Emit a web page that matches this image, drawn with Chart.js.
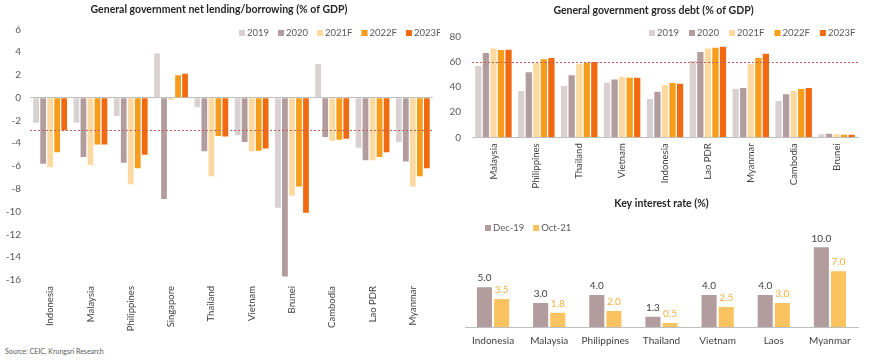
<!DOCTYPE html>
<html>
<head>
<meta charset="utf-8">
<script src="https://cdn.jsdelivr.net/npm/chart.js@4.4.0/dist/chart.umd.min.js"></script>
<style>
body { margin: 0; background: #fff; width: 870px; height: 362px; overflow: hidden; position: relative; font-family: Lato, sans-serif; }
.box { position: absolute; }
canvas { display: block; }
#source { position: absolute; left: 5px; top: 347px; font-size: 7px; color: #595959; }
</style>
</head>
<body>
<div class="box" style="left:0;top:0;"><canvas id="netChart" width="440" height="345"></canvas></div>
<div class="box" style="left:440px;top:0;"><canvas id="debtChart" width="430" height="195"></canvas></div>
<div class="box" style="left:440px;top:195px;"><canvas id="rateChart" width="430" height="167"></canvas></div>
<div id="source">Source: CEIC, Krungsri Research</div>
<script>
// net lending/borrowing (% of GDP)
var netCountries = ['Indonesia', 'Malaysia', 'Philippines', 'Singapore', 'Thailand', 'Vietnam', 'Brunei', 'Cambodia', 'Lao PDR', 'Myanmar'];
var net2019 = [-2.2, -2.2, -1.6, 3.9, -0.85, -3.3, -9.65, 2.95, -4.4, -3.9];
var net2020 = [-5.8, -5.2, -5.7, -8.9, -4.7, -3.9, -15.7, -3.45, -5.5, -5.6];
var net2021F = [-6.1, -5.9, -7.6, -0.2, -6.9, -4.7, -8.6, -3.77, -5.5, -7.8];
var net2022F = [-4.8, -4.1, -6.2, 1.96, -3.36, -4.65, -7.8, -3.7, -5.2, -6.9];
var net2023F = [-2.85, -4.1, -5.0, 2.1, -3.4, -4.45, -10.1, -3.6, -4.8, -6.2];
var netRef = -2.85;

// gross debt (% of GDP)
var debtCountries = ['Malaysia', 'Philippines', 'Thailand', 'Vietnam', 'Indonesia', 'Lao PDR', 'Myanmar', 'Cambodia', 'Brunei'];
var debt2019 = [56.7, 36.8, 40.8, 43.4, 30.5, 60.7, 38.4, 28.9, 2.4];
var debt2020 = [67, 51.7, 49.3, 46, 36.3, 67.8, 39.2, 34.2, 2.9];
var debt2021F = [70.7, 59, 58.3, 48, 41.3, 70.7, 58.3, 36.8, 2.4];
var debt2022F = [69.4, 62, 59.3, 47.4, 43.2, 71.3, 63, 38.4, 2.1];
var debt2023F = [69.7, 63, 59.9, 47.4, 42.6, 72, 66.5, 39.2, 2.1];
var debtRef = 60;

// key interest rate (%)
var rateCountries = ['Indonesia', 'Malaysia', 'Philippines', 'Thailand', 'Vietnam', 'Laos', 'Myanmar'];
var rateDec19 = [5.0, 3.0, 4.0, 1.3, 4.0, 4.0, 10.0];
var rateOct21 = [3.5, 1.8, 2.0, 0.5, 2.5, 3.0, 7.0];

var yearLabels = ['2019', '2020', '2021F', '2022F', '2023F'];
var yearColors = ['#d9d0d1', '#b29c9e', '#fdd9a2', '#f89c1c', '#f26a10'];

function yearSets(series) {
   return series.map(function(data, i) {
      return { label: yearLabels[i], data: data, backgroundColor: yearColors[i] };
   });
}

// dashed threshold line
var refLine = {
   id: 'refLine',
   afterDatasetsDraw: function(chart, args, opts) {
      var y = Math.round(chart.scales.y.getPixelForValue(opts.value)) + 0.5;
      var area = chart.chartArea;
      var ctx = chart.ctx;
      ctx.save();
      ctx.strokeStyle = opts.color;
      ctx.lineWidth = 1;
      ctx.setLineDash([2, 2]);
      ctx.beginPath();
      ctx.moveTo(area.left, y);
      ctx.lineTo(area.right, y);
      ctx.stroke();
      ctx.restore();
   }
};

// small square legend, placed by hand
var boxLegend = {
   id: 'boxLegend',
   afterDraw: function(chart, args, opts) {
      var ctx = chart.ctx;
      var x = opts.x;
      ctx.save();
      ctx.font = opts.font;
      ctx.textBaseline = 'middle';
      chart.data.datasets.forEach(function(ds) {
         ctx.fillStyle = ds.backgroundColor;
         ctx.fillRect(x, opts.y - opts.box / 2, opts.box, opts.box);
         x += opts.box + opts.gap;
         ctx.fillStyle = opts.color;
         ctx.fillText(ds.label, x, opts.y);
         x += ctx.measureText(ds.label).width + opts.space;
      });
      ctx.restore();
   }
};

// numbers above the bars
var barValues = {
   id: 'barValues',
   afterDatasetsDraw: function(chart, args, opts) {
      var ctx = chart.ctx;
      ctx.save();
      ctx.font = opts.font;
      ctx.textAlign = 'center';
      ctx.textBaseline = 'bottom';
      chart.data.datasets.forEach(function(ds, i) {
         ctx.fillStyle = opts.colors[i];
         chart.getDatasetMeta(i).data.forEach(function(bar, j) {
            ctx.fillText(ds.data[j].toFixed(1), bar.x, bar.y - 4);
         });
      });
      ctx.restore();
   }
};

var titleFont = { family: 'Lato', size: 10.5, weight: 'bold' };

new Chart(document.getElementById('netChart'), {
   type: 'bar',
   data: {
      labels: netCountries,
      datasets: yearSets([net2019, net2020, net2021F, net2022F, net2023F])
   },
   options: {
      responsive: false,
      animation: false,
      layout: { padding: { left: 5, right: 7, top: 0, bottom: 0 } },
      datasets: { bar: { categoryPercentage: 0.87, barPercentage: 0.82 } },
      plugins: {
         legend: { display: false },
         tooltip: { enabled: false },
         title: {
            display: true,
            text: 'General government net lending/borrowing (% of GDP)',
            color: '#262626',
            font: titleFont,
            padding: { top: 3.7, bottom: 13 }
         },
         refLine: { value: netRef, color: '#c45c5a' },
         boxLegend: { x: 239, y: 33, box: 6, gap: 2, space: 9, font: '9.5px Lato', color: '#595959' }
      },
      scales: {
         x: {
            grid: { display: false, drawTicks: false },
            border: { display: false },
            ticks: { minRotation: 90, maxRotation: 90, autoSkip: false, padding: 6, color: '#404040', font: { family: 'Lato', size: 9.5 } },
            afterFit: function(s) { s.height = 65; }
         },
         y: {
            min: -16,
            max: 6,
            border: { display: false },
            grid: {
               drawTicks: false,
               color: function(c) { return c.tick.value === 0 ? '#bfbfbf' : 'rgba(0,0,0,0)'; }
            },
            ticks: { stepSize: 2, padding: 9, color: '#595959', font: { family: 'Lato', size: 10 } },
            afterFit: function(s) { s.width = 25; }
         }
      }
   },
   plugins: [refLine, boxLegend]
});

new Chart(document.getElementById('debtChart'), {
   type: 'bar',
   data: {
      labels: debtCountries,
      datasets: yearSets([debt2019, debt2020, debt2021F, debt2022F, debt2023F])
   },
   options: {
      responsive: false,
      animation: false,
      layout: { padding: { left: 9, right: 12, top: 0, bottom: 0 } },
      datasets: { bar: { categoryPercentage: 0.88, barPercentage: 0.83 } },
      plugins: {
         legend: { display: false },
         tooltip: { enabled: false },
         title: {
            display: true,
            text: 'General government gross debt (% of GDP)',
            color: '#262626',
            font: titleFont,
            padding: { top: 4.7, bottom: 19.4 }
         },
         refLine: { value: debtRef, color: '#c45c5a' },
         boxLegend: { x: 209, y: 33, box: 6, gap: 2, space: 10, font: '9.5px Lato', color: '#595959' }
      },
      scales: {
         x: {
            grid: { display: false, drawTicks: false },
            border: { display: true, color: '#bfbfbf' },
            ticks: { minRotation: 90, maxRotation: 90, autoSkip: false, padding: 6, color: '#404040', font: { family: 'Lato', size: 9.5 } },
            afterFit: function(s) { s.height = 57.7; }
         },
         y: {
            min: 0,
            max: 80,
            border: { display: false },
            grid: { display: false, drawTicks: false },
            ticks: { stepSize: 20, padding: 11, color: '#595959', font: { family: 'Lato', size: 10 } },
            afterFit: function(s) { s.width = 23; }
         }
      }
   },
   plugins: [refLine, boxLegend]
});

new Chart(document.getElementById('rateChart'), {
   type: 'bar',
   data: {
      labels: rateCountries,
      datasets: [
         { label: 'Dec-19', data: rateDec19, backgroundColor: '#b29c9e' },
         { label: 'Oct-21', data: rateOct21, backgroundColor: '#fbc35f' }
      ]
   },
   options: {
      responsive: false,
      animation: false,
      layout: { padding: { left: 25, right: 12, top: 0, bottom: 0 } },
      datasets: { bar: { categoryPercentage: 0.61, barPercentage: 0.88 } },
      plugins: {
         legend: { display: false },
         tooltip: { enabled: false },
         title: {
            display: true,
            text: 'Key interest rate (%)',
            color: '#262626',
            font: titleFont,
            padding: { top: 2.7, bottom: 13.1 }
         },
         boxLegend: { x: 45, y: 33, box: 6, gap: 2, space: 9, font: '9.5px Lato', color: '#595959' },
         barValues: { font: '10px Lato', colors: ['#404040', '#f5b041'] }
      },
      scales: {
         x: {
            grid: { display: false, drawTicks: false },
            border: { display: true, color: '#bfbfbf' },
            ticks: { padding: 8, color: '#404040', font: { family: 'Lato', size: 10 } },
            afterFit: function(s) { s.height = 35; }
         },
         y: {
            display: false,
            min: 0,
            max: 13
         }
      }
   },
   plugins: [boxLegend, barValues]
});
</script>
</body>
</html>
